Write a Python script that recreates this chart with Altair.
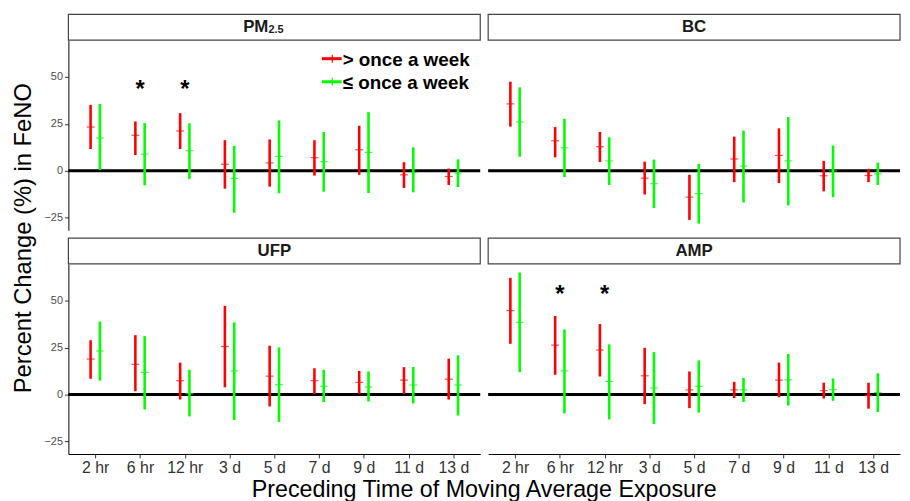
import altair as alt
import pandas as pd

pollutants = ["PM2.5", "BC", "UFP", "AMP"]
windows = ["2 hr", "6 hr", "12 hr", "3 d", "5 d", "7 d", "9 d", "11 d", "13 d"]
groups = ["> once a week", "≤ once a week"]
colors = ["#ff0000", "#00ff00"]

# > once a week : estimate, lower, upper
pm_a_est = [23.3, 18.9, 21.2, 3.5, 4.2, 7.0, 11.2, -2.1, -3.0]
pm_a_lo = [11.6, 8.4, 11.6, -9.5, -8.4, -2.5, -2.1, -9.1, -7.5]
pm_a_hi = [35.1, 26.3, 30.7, 16.3, 16.7, 16.3, 24.0, 4.6, 1.2]
# <= once a week
pm_b_est = [17.5, 8.9, 10.7, -4.0, 7.7, 4.9, 9.8, -0.9, -1.2]
pm_b_lo = [0.5, -7.7, -4.4, -22.3, -11.9, -11.1, -11.8, -11.4, -8.6]
pm_b_hi = [35.6, 25.4, 25.3, 13.3, 26.8, 20.7, 31.2, 12.5, 6.1]

bc_a_est = [35.6, 16.0, 12.8, -3.9, -14.0, 6.3, 8.2, -2.6, -2.5]
bc_a_lo = [23.5, 7.2, 4.7, -12.6, -26.1, -6.0, -6.5, -10.9, -6.0]
bc_a_hi = [47.4, 23.3, 20.7, 4.9, -2.1, 18.2, 22.6, 5.3, 1.1]
bc_b_est = [26.0, 12.3, 5.3, -6.8, -12.1, 2.5, 5.3, 0.0, -1.6]
bc_b_lo = [7.5, -3.3, -7.5, -19.8, -28.1, -16.8, -18.4, -14.0, -7.5]
bc_b_hi = [44.4, 27.7, 17.9, 6.0, 3.7, 21.4, 28.6, 13.5, 4.4]

ufp_a_est = [18.9, 16.1, 7.4, 25.6, 9.8, 7.4, 6.5, 7.7, 8.2]
ufp_a_lo = [8.4, 1.8, -2.6, 3.9, -6.3, 0.4, 0.4, 0.4, -2.6]
ufp_a_hi = [28.9, 31.6, 17.0, 47.2, 26.0, 14.0, 12.6, 14.6, 19.1]
ufp_b_est = [23.2, 11.8, 0.5, 12.6, 5.3, 4.4, 4.0, 5.1, 5.1]
ufp_b_lo = [7.4, -7.9, -11.6, -13.5, -14.6, -4.0, -3.7, -4.7, -11.1]
ufp_b_hi = [38.9, 31.1, 13.2, 38.4, 25.1, 13.2, 12.3, 14.7, 20.9]

amp_a_est = [44.7, 26.3, 23.7, 10.0, 2.5, 2.5, 7.7, 2.1, -0.5]
amp_a_lo = [27.0, 10.5, 9.6, -5.1, -7.2, -1.8, -1.4, -2.1, -7.5]
amp_a_hi = [62.1, 41.8, 37.5, 24.9, 12.3, 6.8, 17.0, 6.3, 6.3]
amp_b_est = [38.4, 12.6, 7.0, 3.5, 4.4, 2.5, 7.9, 2.6, 1.1]
amp_b_lo = [11.9, -10.0, -13.2, -15.6, -9.6, -3.9, -5.8, -3.3, -9.3]
amp_b_hi = [64.9, 34.7, 26.7, 22.6, 18.2, 8.9, 21.6, 8.6, 11.4]

series = {
    "PM2.5": [(pm_a_est, pm_a_lo, pm_a_hi), (pm_b_est, pm_b_lo, pm_b_hi)],
    "BC": [(bc_a_est, bc_a_lo, bc_a_hi), (bc_b_est, bc_b_lo, bc_b_hi)],
    "UFP": [(ufp_a_est, ufp_a_lo, ufp_a_hi), (ufp_b_est, ufp_b_lo, ufp_b_hi)],
    "AMP": [(amp_a_est, amp_a_lo, amp_a_hi), (amp_b_est, amp_b_lo, amp_b_hi)],
}

star_windows = {"PM2.5": ["6 hr", "12 hr"], "AMP": ["6 hr", "12 hr"]}
star_y = {"PM2.5": 43, "AMP": 53}

y_ticks = [-25, 0, 25, 50]
y_domain = [-31.6, 69.5]
x_title = "Preceding Time of Moving Average Exposure"
y_title = "Percent Change (%) in FeNO"

rows = []
for p in pollutants:
    for g, (est, lo, hi) in zip(groups, series[p]):
        for w, e, l, h in zip(windows, est, lo, hi):
            rows.append({"pollutant": p, "group": g, "window": w, "est": e, "lo": l, "hi": h})
df = pd.DataFrame(rows)

W, H = 416, 192
FONT = "Liberation Sans"
OFFS = [-4.7, 4.7]


def enc_x(show_x):
    axis = alt.Axis(title=None, labelFontSize=16, labelColor="#333333", labelFont=FONT,
                    tickColor="#333333", tickSize=4, labelPadding=2, domainColor="black",
                    domainWidth=1, labelAngle=0, grid=False) if show_x else None
    return alt.X("window:N", scale=alt.Scale(type="point", domain=windows, padding=0.6), axis=axis)


def enc_y(field, show_y):
    axis = alt.Axis(title=None, values=y_ticks, labelFontSize=11, labelColor="#4d4d4d",
                    labelFont=FONT, tickColor="#333333", tickSize=4, labelPadding=2,
                    domainColor="black", domainWidth=1, grid=False) if show_y else None
    return alt.Y(field, scale=alt.Scale(domain=y_domain, nice=False, zero=False), axis=axis)


def panel(name, show_x, show_y, with_legend=False, with_titles=False):
    d = df[df.pollutant == name]
    layers = []
    layers.append(
        alt.Chart(pd.DataFrame({"v": [0]})).mark_rule(color="black", strokeWidth=3)
        .encode(y=enc_y("v:Q", show_y))
    )
    for g, c, off in zip(groups, colors, OFFS):
        dg = d[d.group == g]
        layers.append(
            alt.Chart(dg).mark_rule(color=c, strokeWidth=2.6, xOffset=off)
            .encode(x=enc_x(show_x), y=enc_y("lo:Q", show_y), y2="hi:Q")
        )
        layers.append(
            alt.Chart(dg).mark_tick(color=c, orient="horizontal", size=8, thickness=1.2, xOffset=off)
            .encode(x=enc_x(show_x), y=enc_y("est:Q", show_y))
        )
    # strip
    layers.append(
        alt.Chart(pd.DataFrame({"p": [name]})).mark_rect(fill="white", stroke="#444444", strokeWidth=1.2)
        .encode(x=alt.value(0), x2=alt.value(W), y=alt.value(-26), y2=alt.value(0))
    )
    if name == "PM2.5":
        layers.append(
            alt.Chart(pd.DataFrame({"t": ["PM"]})).mark_text(font=FONT, fontSize=17, fontWeight="bold",
                                                             align="right", baseline="middle", color="#1a1a1a")
            .encode(text="t:N", x=alt.value(W / 2 - 6), y=alt.value(-13))
        )
        layers.append(
            alt.Chart(pd.DataFrame({"t": ["2.5"]})).mark_text(font=FONT, fontSize=11, fontWeight="bold",
                                                              align="left", baseline="middle", color="#1a1a1a")
            .encode(text="t:N", x=alt.value(W / 2 - 6), y=alt.value(-10))
        )
    else:
        layers.append(
            alt.Chart(pd.DataFrame({"t": [name]})).mark_text(font=FONT, fontSize=17, fontWeight="bold",
                                                             align="center", baseline="middle", color="#1a1a1a")
            .encode(text="t:N", x=alt.value(W / 2), y=alt.value(-13))
        )
    if name in star_windows:
        sd = pd.DataFrame({"window": star_windows[name], "y": [star_y[name]] * len(star_windows[name]),
                           "s": ["*"] * len(star_windows[name])})
        layers.append(
            alt.Chart(sd).mark_text(font=FONT, fontSize=24, fontWeight="bold", color="black")
            .encode(x=enc_x(show_x), y=enc_y("y:Q", show_y), text="s:N")
        )
    if with_legend:
        for i, (g, c) in enumerate(zip(groups, colors)):
            yy = 18.7 + i * 23.3
            one = pd.DataFrame({"label": [g]})
            layers.append(
                alt.Chart(one).mark_rule(color=c, strokeWidth=3)
                .encode(x=alt.value(256), x2=alt.value(276), y=alt.value(yy))
            )
            layers.append(
                alt.Chart(one).mark_rule(color=c, strokeWidth=1.2)
                .encode(x=alt.value(266.5), y=alt.value(yy - 4), y2=alt.value(yy + 4))
            )
            layers.append(
                alt.Chart(one).mark_text(font=FONT, fontSize=19, fontWeight="bold", align="left",
                                         baseline="middle", color="black")
                .encode(text="label:N", x=alt.value(277), y=alt.value(yy + 1))
            )
    if with_titles:
        layers.append(
            alt.Chart(pd.DataFrame({"t": [y_title]})).mark_text(font=FONT, fontSize=24, angle=270,
                                                                align="center", baseline="middle", color="black")
            .encode(text="t:N", x=alt.value(-45), y=alt.value(-26))
        )
        layers.append(
            alt.Chart(pd.DataFrame({"t": [x_title]})).mark_text(font=FONT, fontSize=23.5,
                                                                align="center", baseline="alphabetic", color="black")
            .encode(text="t:N", x=alt.value(W + 4), y=alt.value(H + 43))
        )
    return alt.layer(*layers).properties(width=W, height=H)


chart = alt.concat(
    panel("PM2.5", False, True, with_legend=True),
    panel("BC", False, False),
    panel("UFP", True, True, with_titles=True),
    panel("AMP", True, False),
    columns=2,
    spacing={"row": 34, "column": 8},
    bounds="flush",
).properties(
    padding={"left": 3, "top": 3, "right": 0, "bottom": 0}
).configure_view(stroke=None)

chart.save("out.html", embed_options={"renderer": "svg", "actions": False})
